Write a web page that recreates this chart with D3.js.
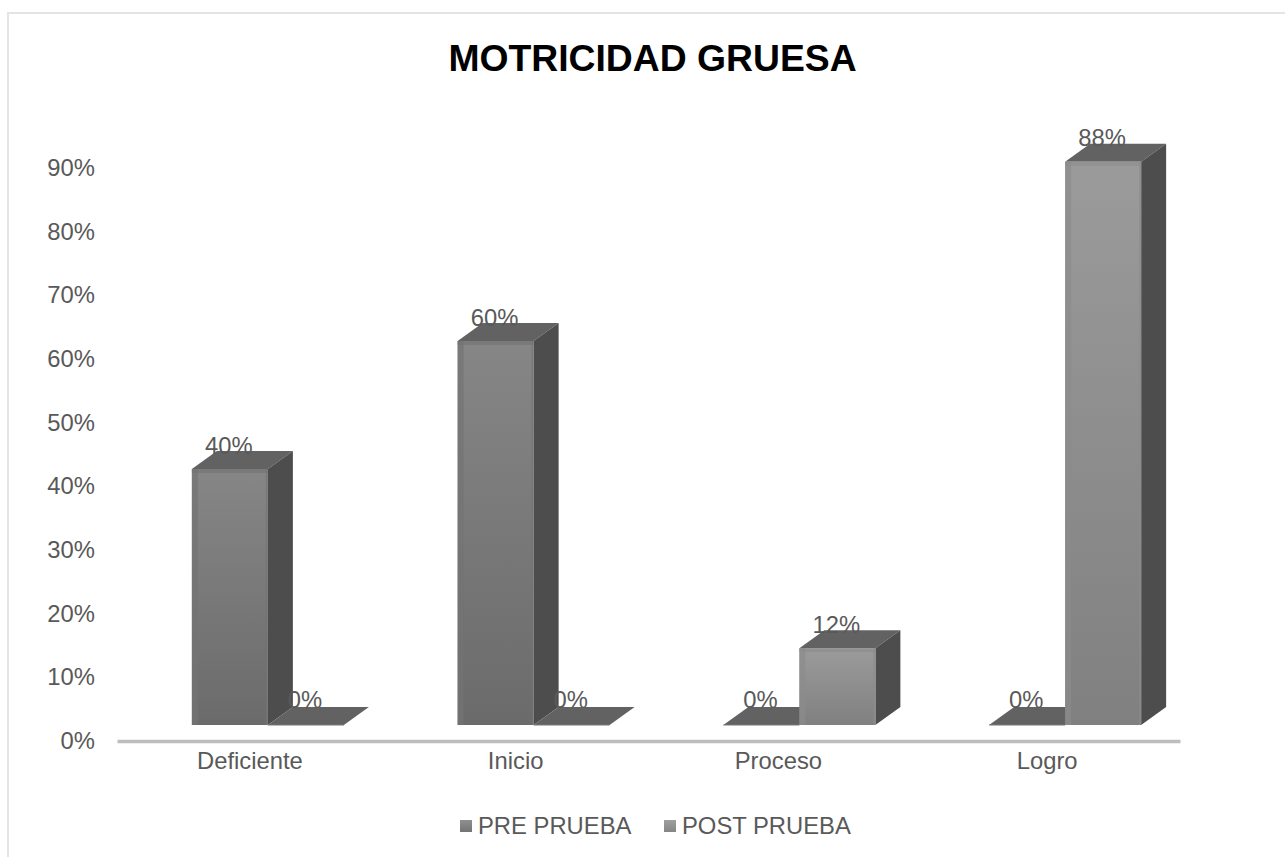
<!DOCTYPE html>
<html><head><meta charset="utf-8">
<script src="https://cdn.jsdelivr.net/npm/d3@7/dist/d3.min.js"></script>
<style>html,body{margin:0;padding:0;background:#fff}svg{display:block}text{font-family:"Liberation Sans",Arial,sans-serif}</style>
</head><body><svg id="c" width="1285" height="857"></svg>
<script>
const title = "MOTRICIDAD GRUESA";
const categories = ["Deficiente","Inicio","Proceso","Logro"];
const seriesNames = ["PRE PRUEBA","POST PRUEBA"];
const prePrueba = [40,60,0,0];
const postPrueba = [0,0,12,88];
const yTicks = [0,10,20,30,40,50,60,70,80,90];

const W=1285,H=857;
const depthX=25, depthY=18;
const textFont=23.8;
const svg=d3.select("#c");
const defs=svg.append("defs");
function grad(id,top,bot){
  const g=defs.append("linearGradient").attr("id",id).attr("x1",0).attr("y1",0).attr("x2",0).attr("y2",1);
  g.append("stop").attr("offset",0).attr("stop-color",top);
  g.append("stop").attr("offset",1).attr("stop-color",bot);
}
grad("pre","#868686","#6b6b6b");
grad("post","#9b9b9b","#808080");
grad("preKey","#8f8f8f","#747474");
grad("postKey","#9f9f9f","#858585");

// frame: left and top edges only, the top edge runs off the page
svg.append("path").attr("d",`M8,${H} V13 H${W}`).attr("fill","none").attr("stroke","#e4e4e4").attr("stroke-width",2);

svg.append("text").attr("x",652.5).attr("y",71).attr("text-anchor","middle")
  .attr("font-size",37.3).attr("font-weight","bold").attr("fill","#000").text(title);

const xBand=d3.scaleBand().domain(categories).range([117,1180]);
const yWall=d3.scaleLinear().domain([0,90]).range([741,168]);
const yBar=d3.scaleLinear().domain([0,90]).range([725,149]);
const xInner=d3.scaleBand().domain(seriesNames).range([0,152]);

// axes
const axL=svg.append("g").attr("transform","translate(114,0)")
  .call(d3.axisLeft(yWall).tickValues(yTicks).tickFormat(d=>d+"%").tickSize(0).tickPadding(19));
axL.select(".domain").remove();
axL.selectAll("text").attr("font-size",textFont).attr("fill","#595959").attr("font-family",'"Liberation Sans",Arial,sans-serif');

const axB=svg.append("g").attr("transform","translate(0,741)")
  .call(d3.axisBottom(xBand).tickSize(0).tickPadding(11));
axB.select(".domain").attr("stroke","#bdbdbd").attr("stroke-width",3.5);
axB.selectAll("text").attr("font-size",textFont).attr("fill","#595959").attr("font-family",'"Liberation Sans",Arial,sans-serif')
  .attr("dx",(d,i)=>i===2?-3:0);

// bars
const barsG=svg.append("g"), labelsG=svg.append("g");
const rows=[];
categories.forEach((c,i)=>{
  rows.push({cat:c,s:seriesNames[0],v:prePrueba[i],g:"pre",strip:"#737373"});
  rows.push({cat:c,s:seriesNames[1],v:postPrueba[i],g:"post",strip:"#8c8c8c"});
});
const x0=d=>xBand(d.cat)+xBand.bandwidth()/2-58+xInner(d.s);
const bw=xInner.bandwidth();
const base=yBar(0);
rows.forEach(d=>{
  const x=x0(d), y=yBar(d.v), g=barsG.append("g");
  g.append("path").attr("d",`M${x},${y} L${x+depthX},${y-depthY} H${x+bw+depthX} L${x+bw},${y} Z`).attr("fill","#626262");
  if(d.v>0){
    g.append("path").attr("d",`M${x+bw},${y} L${x+bw+depthX},${y-depthY} V${base-depthY} L${x+bw},${base} Z`).attr("fill","#4d4d4d");
    g.append("rect").attr("x",x).attr("y",y).attr("width",bw).attr("height",base-y).attr("fill",`url(#${d.g})`);
    g.append("rect").attr("x",x).attr("y",y).attr("width",6).attr("height",base-y).attr("fill",d.strip).attr("opacity",.7);
    g.append("rect").attr("x",x+bw-2).attr("y",y).attr("width",2).attr("height",base-y).attr("fill",d.strip).attr("opacity",.7);
    g.append("rect").attr("x",x).attr("y",y).attr("width",bw).attr("height",4).attr("fill",d.strip).attr("opacity",.6);
  } else {
    g.append("line").attr("x1",x).attr("x2",x+bw).attr("y1",base).attr("y2",base).attr("stroke","#777").attr("stroke-width",1);
  }
  labelsG.append("text").attr("x",x+bw/2-1).attr("y",y-(d.v>0?15.5:17)).attr("text-anchor","middle")
    .attr("font-size",textFont).attr("fill","#595959").text(d.v+"%");
});

// legend
const legendX=d3.scaleOrdinal().domain(seriesNames).range([460,664]);
const leg=svg.append("g").selectAll("g").data(seriesNames).join("g").attr("transform",d=>`translate(${legendX(d)},0)`);
leg.append("rect").attr("y",820).attr("width",12).attr("height",12).attr("fill",(d,i)=>i?"url(#postKey)":"url(#preKey)");
leg.append("text").attr("x",18).attr("y",834).attr("font-size",textFont).attr("fill","#595959").text(d=>d);
</script></body></html>
